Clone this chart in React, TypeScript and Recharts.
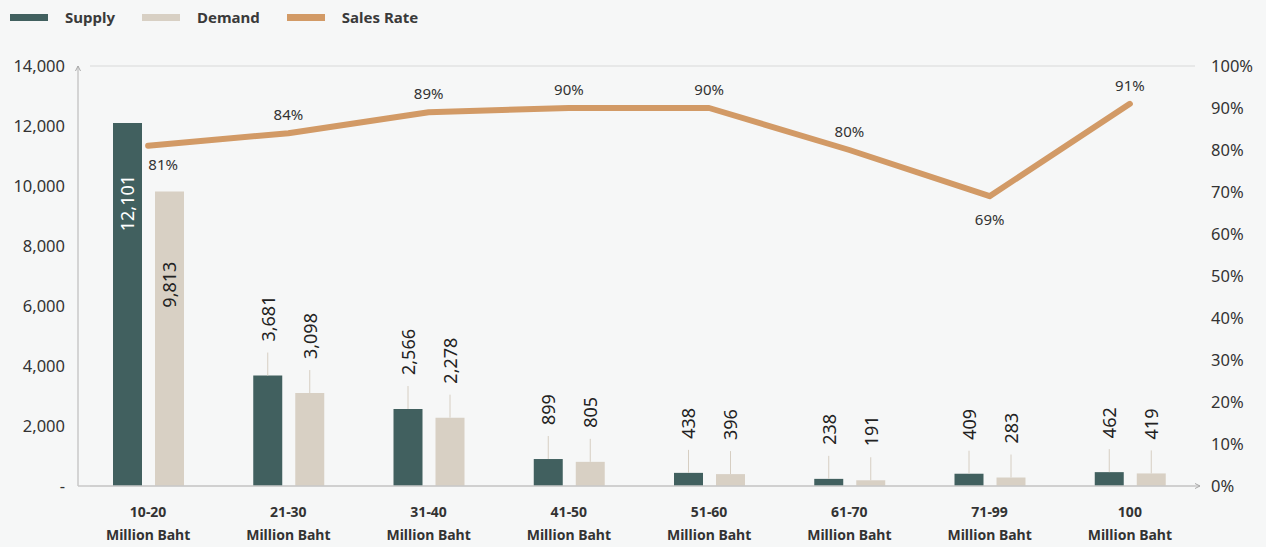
import React from 'react';
import {
  ComposedChart,
  Bar,
  Line,
  XAxis,
  YAxis,
  CartesianGrid,
  LabelList,
  Customized,
} from 'recharts';

// Price bands (million baht) with supply / demand units and sales rate (%)
const categories = ['10-20', '21-30', '31-40', '41-50', '51-60', '61-70', '71-99', '100'];
const categoryUnit = 'Million Baht';
const supply = [12101, 3681, 2566, 899, 438, 238, 409, 462];
const demand = [9813, 3098, 2278, 805, 396, 191, 283, 419];
const salesRate = [81, 84, 89, 90, 90, 80, 69, 91];

const unitTicks = [0, 2000, 4000, 6000, 8000, 10000, 12000, 14000];
const rateTicks = [0, 10, 20, 30, 40, 50, 60, 70, 80, 90, 100];

const seriesNames = { supply: 'Supply', demand: 'Demand', rate: 'Sales Rate' };

const data = categories.map((category, i) => ({
  category,
  supply: supply[i],
  demand: demand[i],
  rate: salesRate[i],
}));

const COLORS = {
  supply: '#41605f',
  demand: '#d8d0c4',
  rate: '#d29a66',
  text: '#333333',
  grid: '#e7e8e8',
  axis: '#c8c8c8',
  bg: '#f6f7f7',
};

const FONT = '"Noto Sans", "DejaVu Sans", sans-serif';
const fmt = (v: number) => v.toLocaleString('en-US');

// values too tall to carry a label above the bar get it inside the bar
const INSIDE_LIMIT = 9000;

const makeBarLabel = (insideOffset: number, insideColor: string) => (props: any) => {
  const { x, y, width, value } = props;
  const cx = Number(x) + Number(width) / 2;
  const top = Number(y);
  if (value > INSIDE_LIMIT) {
    const ty = top + insideOffset;
    return (
      <text
        x={cx}
        y={ty}
        transform={`rotate(-90 ${cx} ${ty})`}
        textAnchor="end"
        dominantBaseline="central"
        fill={insideColor}
        fontSize={18}
        fontFamily={FONT}
      >
        {fmt(value)}
      </text>
    );
  }
  const ty = top - 34;
  return (
    <g>
      <line x1={cx} x2={cx} y1={top - 23} y2={top} stroke="#d6cec2" strokeWidth={1} />
      <text
        x={cx}
        y={ty}
        transform={`rotate(-90 ${cx} ${ty})`}
        textAnchor="start"
        dominantBaseline="central"
        fill="#222"
        fontSize={18}
        fontFamily={FONT}
      >
        {fmt(value)}
      </text>
    </g>
  );
};

const RateLabel = (props: any) => {
  const { x, y, value, index } = props;
  const prev = index > 0 ? salesRate[index - 1] : undefined;
  const next = index < salesRate.length - 1 ? salesRate[index + 1] : undefined;
  const below =
    (prev === undefined || value < prev) && (next === undefined || value < next);
  const dx = index === 0 ? 15 : 0;
  const dy = below ? (index === 0 ? 18 : 23) : -19;
  return (
    <text
      x={Number(x) + dx}
      y={Number(y) + dy}
      textAnchor="middle"
      dominantBaseline="central"
      fill={COLORS.text}
      fontSize={15}
      fontFamily={FONT}
    >
      {`${value}%`}
    </text>
  );
};

const CategoryTick = (props: any) => {
  const { x, y, payload } = props;
  return (
    <text
      x={x}
      y={y}
      textAnchor="middle"
      fill={COLORS.text}
      fontSize={14}
      fontWeight={700}
      fontFamily={FONT}
    >
      <tspan x={x} dy={0}>
        {payload.value}
      </tspan>
      <tspan x={x} dy={23}>
        {categoryUnit}
      </tspan>
    </text>
  );
};

const GridLine = (props: any) => {
  const { x1, x2, y1, y2, key } = props;
  return (
    <line
      key={key}
      x1={Number(x1) + 12}
      x2={Number(x2) - 5}
      y1={y1}
      y2={y2}
      stroke={COLORS.grid}
      strokeWidth={2}
    />
  );
};

const ArrowDefs = () => (
  <defs>
    <marker
      id="axis-arrow"
      viewBox="0 0 8 8"
      refX={7}
      refY={4}
      markerWidth={8}
      markerHeight={8}
      markerUnits="userSpaceOnUse"
      orient="auto-start-reverse"
    >
      <path d="M2,1.5 L7,4 L2,6.5" fill="none" stroke="#a8a8a8" strokeWidth={1} />
    </marker>
  </defs>
);

const Legend = () => {
  const items = [
    { name: seriesNames.supply, color: COLORS.supply },
    { name: seriesNames.demand, color: COLORS.demand },
    { name: seriesNames.rate, color: COLORS.rate },
  ];
  return (
    <div
      style={{
        position: 'absolute',
        left: 10,
        top: 6,
        display: 'flex',
        alignItems: 'center',
        fontFamily: FONT,
        fontSize: 15,
        fontWeight: 700,
        color: '#3a3a3a',
        lineHeight: '22px',
      }}
    >
      {items.map((it) => (
        <div key={it.name} style={{ display: 'flex', alignItems: 'center', marginRight: 27 }}>
          <span
            style={{ width: 38, height: 7, background: it.color, display: 'inline-block', marginRight: 17 }}
          />
          <span>{it.name}</span>
        </div>
      ))}
    </div>
  );
};

export default function App() {
  return (
    <div
      style={{
        position: 'absolute',
        left: 0,
        top: 0,
        width: 1266,
        height: 547,
        background: COLORS.bg,
        overflow: 'hidden',
      }}
    >
      <Legend />
      <ComposedChart
        width={1266}
        height={547}
        data={data}
        margin={{ top: 66, right: 0, bottom: 0, left: 0 }}
        barSize={29}
        barGap={13}
      >
        <Customized component={ArrowDefs} />
        <CartesianGrid vertical={false} horizontal={GridLine as any} />
        <XAxis
          dataKey="category"
          height={61}
          tickLine={false}
          tickSize={0}
          tickMargin={31}
          axisLine={{ stroke: COLORS.axis, strokeWidth: 1.5, markerEnd: 'url(#axis-arrow)' } as any}
          tick={<CategoryTick />}
          interval={0}
        />
        <YAxis
          yAxisId="units"
          orientation="left"
          width={78}
          domain={[0, 14000]}
          ticks={unitTicks}
          tickLine={false}
          tickSize={0}
          tickMargin={13}
          axisLine={{ stroke: COLORS.axis, strokeWidth: 1.5, markerStart: 'url(#axis-arrow)' } as any}
          tickFormatter={(v: number) => (v === 0 ? '-' : fmt(v))}
          tick={{ fill: COLORS.text, fontSize: 16.5, fontFamily: FONT }}
        />
        <YAxis
          yAxisId="rate"
          orientation="right"
          width={66}
          domain={[0, 100]}
          ticks={rateTicks}
          tickLine={false}
          tickSize={0}
          tickMargin={11}
          axisLine={false}
          tickFormatter={(v: number) => `${v}%`}
          tick={{ fill: COLORS.text, fontSize: 16.5, fontFamily: FONT, textAnchor: 'start' }}
        />
        <Bar
          yAxisId="units"
          dataKey="supply"
          name={seriesNames.supply}
          fill={COLORS.supply}
          isAnimationActive={false}
        >
          <LabelList dataKey="supply" content={makeBarLabel(52, '#ffffff')} />
        </Bar>
        <Bar
          yAxisId="units"
          dataKey="demand"
          name={seriesNames.demand}
          fill={COLORS.demand}
          isAnimationActive={false}
        >
          <LabelList dataKey="demand" content={makeBarLabel(70, '#222222')} />
        </Bar>
        <Line
          yAxisId="rate"
          dataKey="rate"
          name={seriesNames.rate}
          stroke={COLORS.rate}
          strokeWidth={6}
          strokeLinecap="round"
          strokeLinejoin="round"
          dot={false}
          activeDot={false}
          isAnimationActive={false}
        >
          <LabelList dataKey="rate" content={<RateLabel />} />
        </Line>
      </ComposedChart>
    </div>
  );
}
